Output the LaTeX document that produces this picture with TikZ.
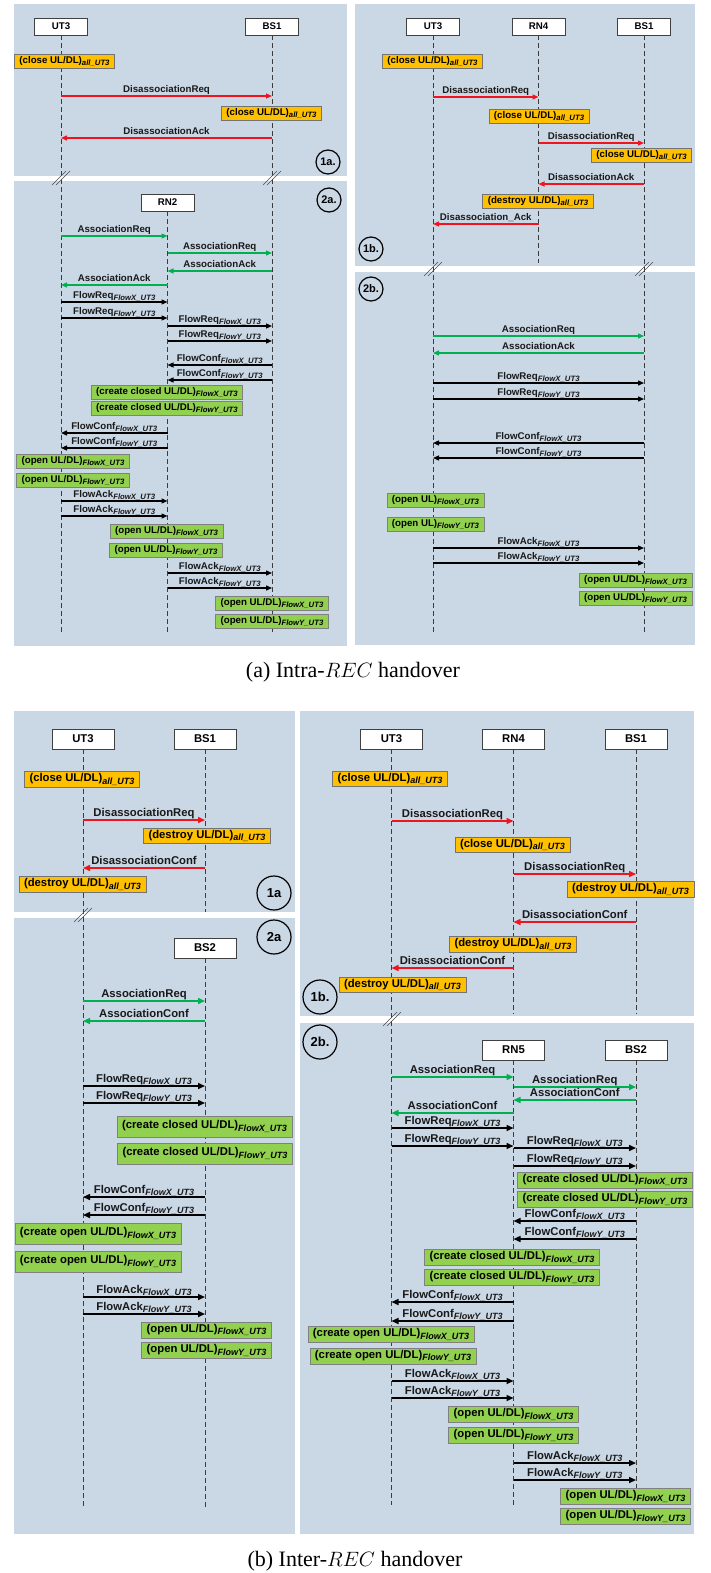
\documentclass[tikz,border=0pt]{standalone}
\usepackage{fontspec}
\setmainfont{Liberation Sans}
\newfontfamily\capfont{Liberation Serif}
\usepackage{graphicx}
\usetikzlibrary{arrows.meta}
\definecolor{panelbg}{RGB}{202,215,229}
\definecolor{mred}{RGB}{240,20,30}
\definecolor{mgreen}{RGB}{0,176,80}
\definecolor{borange}{RGB}{255,192,0}
\definecolor{bgreen}{RGB}{146,208,80}
\definecolor{lifegray}{RGB}{60,60,60}
\newcommand\sbs[1]{\raisebox{-0.4ex}{\scalebox{0.8}{\itshape #1}}}
\newcommand\fnt{\fontsize{9.7pt}{11pt}\selectfont\bfseries}
\newcommand\stfnt{\fontsize{11pt}{13pt}\selectfont\bfseries}
\newcommand\lsh{3.5pt}
\newcommand\CL{(close UL/DL)\sbs{all\_UT3}}
\newcommand\DS{(destroy UL/DL)\sbs{all\_UT3}}
\newcommand\FX{\sbs{FlowX\_UT3}}
\newcommand\FY{\sbs{FlowY\_UT3}}
\newcounter{mc}
\newcounter{bc}
\newcommand\msg[6][]{\stepcounter{mc}\draw[msgline,#2,#1] (#3 |- 0,#5) -- node[mlbl] (m\arabic{mc}) {#6} (#4 |- 0,#5);}
\newcommand\bx[5][]{\stepcounter{bc}\node[#2,#1] (b\arabic{bc}) at (#3,#4) {#5};}
\newcommand\brk[2]{\draw[brkline] (#1-9,#2+7) -- (#1+5,#2-7); \draw[brkline] (#1-5,#2+7) -- (#1+9,#2-7);}
\tikzset{
 panel/.style={fill=panelbg,draw=none},
 hdr/.style={draw=black!75,fill=white,line width=0.9pt,inner sep=0pt,font=\fnt},
 life/.style={draw=lifegray,line width=0.9pt,dash pattern=on 5pt off 3pt},
 msgline/.style={line width=1.3pt,-{Triangle[length=6pt,width=5pt]}},
 redmsg/.style={color=mred},
 grnmsg/.style={color=mgreen},
 blkmsg/.style={color=black},
 mlbl/.style={anchor=base,yshift=\lsh,inner sep=0pt,font=\fnt,text=black!90},
 obox/.style={fill=borange,draw=black!55,line width=0.7pt,inner xsep=5pt,inner ysep=0pt,minimum height=14pt,font=\fnt},
 gbox/.style={fill=bgreen,draw=black!50,line width=0.7pt,inner xsep=5pt,inner ysep=0pt,minimum height=14pt,font=\fnt},
 stage/.style={circle,draw=black,line width=1.2pt,inner sep=0pt,font=\stfnt},
 brkline/.style={draw=black!70,line width=0.6pt},
 caption/.style={anchor=base,inner sep=0pt,font=\capfont\fontsize{22pt}{26pt}\selectfont}
}
\begin{document}
\begin{tikzpicture}[x=1pt,y=-1pt]
\useasboundingbox (0,0) rectangle (710,1573);
\fill[white] (0,0) rectangle (710,1573);
% ---------------- panels
\fill[panel] (14,4) rectangle (347,176);
\fill[panel] (14,181) rectangle (347,646);
\fill[panel] (355,4) rectangle (695,266);
\fill[panel] (355,272) rectangle (695,645);
\fill[panel] (14,711) rectangle (295,912);
\fill[panel] (14,918) rectangle (295,1534);
\fill[panel] (300,711) rectangle (694,1016);
\fill[panel] (300,1023) rectangle (694,1534);

% ================= TOP (a)
\begin{scope}[hdr/.append style={minimum width=53pt,minimum height=17pt}]
\node[hdr] (aU) at (61,26.5) {UT3};
\node[hdr] (aB) at (272,26.5) {BS1};
\node[hdr] (aR) at (167.5,202.5) {RN2};
\node[hdr] (bU) at (433,26.5) {UT3};
\node[hdr] (bR) at (538.5,26.5) {RN4};
\node[hdr] (bB) at (644,26.5) {BS1};
\end{scope}
\draw[life] (aU.south) -- (aU |- 0,633);
\draw[life] (aB.south) -- (aB |- 0,633);
\draw[life] (aR.south) -- (aR |- 0,633);
\draw[life] (bU.south) -- (bU |- 0,633);
\draw[life] (bB.south) -- (bB |- 0,633);
\draw[life] (bR.south) -- (bR |- 0,263);
\brk{61}{178} \brk{272}{178} \brk{433}{269} \brk{644}{269}
\begin{scope}[stage/.append style={minimum size=24pt}]
\node[stage] (s1) at (328,162) {1a.};
\node[stage] (s2) at (329,200) {2a.};
\node[stage] (s3) at (371,249) {1b.};
\node[stage] (s4) at (371,289) {2b.};
\end{scope}
% 1a
\bx{obox}{64.5}{61}{\CL}
\msg{redmsg}{aU}{aB}{96}{DisassociationReq}
\bx{obox}{271.5}{113}{\CL}
\msg{redmsg}{aB}{aU}{138}{DisassociationAck}
% 1b
\bx{obox}{432.5}{61.5}{\CL}
\msg{redmsg}{bU}{bR}{97}{DisassociationReq}
\bx{obox}{539}{116.5}{\CL}
\msg{redmsg}{bR}{bB}{143}{DisassociationReq}
\bx{obox}{641.5}{155.5}{\CL}
\msg{redmsg}{bB}{bR}{184}{DisassociationAck}
\bx{obox}{538}{201}{\DS}
\msg{redmsg}{bR}{bU}{224}{Disassociation\_Ack}
% 2a
\msg{grnmsg}{aU}{aR}{236}{AssociationReq}
\msg{grnmsg}{aR}{aB}{253}{AssociationReq}
\msg{grnmsg}{aB}{aR}{271}{AssociationAck}
\msg{grnmsg}{aR}{aU}{285}{AssociationAck}
\msg{blkmsg}{aU}{aR}{302}{FlowReq\FX}
\msg{blkmsg}{aU}{aR}{318}{FlowReq\FY}
\msg{blkmsg}{aR}{aB}{326}{FlowReq\FX}
\msg{blkmsg}{aR}{aB}{341}{FlowReq\FY}
\msg{blkmsg}{aB}{aR}{365}{FlowConf\FX}
\msg{blkmsg}{aB}{aR}{380}{FlowConf\FY}
\bx{gbox}{167}{392}{(create closed UL/DL)\FX}
\bx{gbox}{167}{408.5}{(create closed UL/DL)\FY}
\msg{blkmsg}{aR}{aU}{433}{FlowConf\FX}
\msg{blkmsg}{aR}{aU}{448}{FlowConf\FY}
\bx{gbox}{73}{461}{(open UL/DL)\FX}
\bx{gbox}{73}{480}{(open UL/DL)\FY}
\msg{blkmsg}{aU}{aR}{501}{FlowAck\FX}
\msg{blkmsg}{aU}{aR}{516}{FlowAck\FY}
\bx{gbox}{166.5}{531}{(open UL/DL)\FX}
\bx{gbox}{166}{550}{(open UL/DL)\FY}
\msg{blkmsg}{aR}{aB}{573}{FlowAck\FX}
\msg{blkmsg}{aR}{aB}{588}{FlowAck\FY}
\bx{gbox}{272}{603}{(open UL/DL)\FX}
\bx{gbox}{272}{621.5}{(open UL/DL)\FY}
% 2b
\msg{grnmsg}{bU}{bB}{336}{AssociationReq}
\msg{grnmsg}{bB}{bU}{353}{AssociationAck}
\msg{blkmsg}{bU}{bB}{383}{FlowReq\FX}
\msg{blkmsg}{bU}{bB}{399}{FlowReq\FY}
\msg{blkmsg}{bB}{bU}{443}{FlowConf\FX}
\msg{blkmsg}{bB}{bU}{458}{FlowConf\FY}
\bx{gbox}{435.5}{500.5}{(open UL)\FX}
\bx{gbox}{435.5}{524}{(open UL)\FY}
\msg{blkmsg}{bU}{bB}{548}{FlowAck\FX}
\msg{blkmsg}{bU}{bB}{563}{FlowAck\FY}
\bx{gbox}{635.5}{580.5}{(open UL/DL)\FX}
\bx{gbox}{635.5}{598.5}{(open UL/DL)\FY}

\node[caption] (capa) at (353,677) {(a) Intra-$REC$ handover};

% ================= BOTTOM (b)
\renewcommand\fnt{\fontsize{11.3pt}{13pt}\selectfont\bfseries}
\renewcommand\stfnt{\fontsize{13pt}{15pt}\selectfont\bfseries}
\renewcommand\lsh{4pt}
\begin{scope}[msgline/.style={line width=1.5pt,-{Triangle[length=7pt,width=6pt]}},
  obox/.append style={minimum height=15.5pt},
  gbox/.append style={minimum height=16pt}]
\begin{scope}[hdr/.append style={minimum width=62pt,minimum height=20pt}]
\node[hdr] (cU) at (83,739) {UT3};
\node[hdr] (cB) at (205,739) {BS1};
\node[hdr] (cB2) at (205,948) {BS2};
\node[hdr] (dU) at (391.5,739) {UT3};
\node[hdr] (dR) at (513.5,739) {RN4};
\node[hdr] (dB) at (636,739) {BS1};
\node[hdr] (dR5) at (513.5,1050) {RN5};
\node[hdr] (dB2) at (636,1050) {BS2};
\end{scope}
\draw[life] (cU.south) -- (cU |- 0,1507);
\draw[life] (cB.south) -- (cB |- 0,912);
\draw[life] (cB2.south) -- (cB2 |- 0,1507);
\draw[life] (dU.south) -- (dU |- 0,1505);
\draw[life] (dR.south) -- (dR |- 0,1014);
\draw[life] (dB.south) -- (dB |- 0,1014);
\draw[life] (dR5.south) -- (dR5 |- 0,1505);
\draw[life] (dB2.south) -- (dB2 |- 0,1505);
\brk{83}{915} \brk{392}{1019}
\begin{scope}[stage/.append style={minimum size=34pt}]
\node[stage] (s5) at (274,893) {1a};
\node[stage] (s6) at (274,937) {2a};
\node[stage] (s7) at (320,997) {1b.};
\node[stage] (s8) at (320,1042) {2b.};
\end{scope}
% 1a
\bx{obox}{82}{779.5}{\CL}
\msg{redmsg}{cU}{cB}{820}{DisassociationReq}
\bx{obox}{207}{836}{\DS}
\msg{redmsg}{cB}{cU}{868}{DisassociationConf}
\bx{obox}{82.5}{884.5}{\DS}
% 2a
\msg{grnmsg}{cU}{cB2}{1001}{AssociationReq}
\msg{grnmsg}{cB2}{cU}{1021}{AssociationConf}
\msg{blkmsg}{cU}{cB2}{1086}{FlowReq\FX}
\msg{blkmsg}{cU}{cB2}{1103}{FlowReq\FY}
\bx[minimum height=21pt]{gbox}{204.5}{1126.5}{(create closed UL/DL)\FX}
\bx[minimum height=21pt]{gbox}{205}{1153.5}{(create closed UL/DL)\FY}
\msg{blkmsg}{cB2}{cU}{1197}{FlowConf\FX}
\msg{blkmsg}{cB2}{cU}{1215}{FlowConf\FY}
\bx[minimum height=21pt]{gbox}{98}{1233.5}{(create open UL/DL)\FX}
\bx[minimum height=21pt]{gbox}{98}{1261.5}{(create open UL/DL)\FY}
\msg{blkmsg}{cU}{cB2}{1297}{FlowAck\FX}
\msg{blkmsg}{cU}{cB2}{1314}{FlowAck\FY}
\bx{gbox}{206.5}{1330}{(open UL/DL)\FX}
\bx{gbox}{206.5}{1350.5}{(open UL/DL)\FY}
% 1b
\bx{obox}{390}{779}{\CL}
\msg{redmsg}{dU}{dR}{821}{DisassociationReq}
\bx{obox}{512.5}{845}{\CL}
\msg{redmsg}{dR}{dB}{874}{DisassociationReq}
\bx{obox}{630.5}{889.5}{\DS}
\msg{redmsg}{dB}{dR}{922}{DisassociationConf}
\bx{obox}{513}{944.5}{\DS}
\msg{redmsg}{dR}{dU}{968}{DisassociationConf}
\bx{obox}{402.5}{985}{\DS}
% 2b
\msg{grnmsg}{dU}{dR5}{1077}{AssociationReq}
\msg{grnmsg}{dR5}{dB2}{1087}{AssociationReq}
\msg{grnmsg}{dB2}{dR5}{1100}{AssociationConf}
\msg{grnmsg}{dR5}{dU}{1113}{AssociationConf}
\msg{blkmsg}{dU}{dR5}{1128}{FlowReq\FX}
\msg{blkmsg}{dU}{dR5}{1146}{FlowReq\FY}
\msg{blkmsg}{dR5}{dB2}{1148}{FlowReq\FX}
\msg{blkmsg}{dR5}{dB2}{1166}{FlowReq\FY}
\bx{gbox}{605}{1180}{(create closed UL/DL)\FX}
\bx{gbox}{605}{1199.5}{(create closed UL/DL)\FY}
\msg{blkmsg}{dB2}{dR5}{1221}{FlowConf\FX}
\msg{blkmsg}{dB2}{dR5}{1239}{FlowConf\FY}
\bx{gbox}{512}{1257.5}{(create closed UL/DL)\FX}
\bx{gbox}{512}{1277.5}{(create closed UL/DL)\FY}
\msg{blkmsg}{dR5}{dU}{1302}{FlowConf\FX}
\msg{blkmsg}{dR5}{dU}{1321}{FlowConf\FY}
\bx{gbox}{391}{1334.5}{(create open UL/DL)\FX}
\bx{gbox}{393}{1356}{(create open UL/DL)\FY}
\msg{blkmsg}{dU}{dR5}{1381}{FlowAck\FX}
\msg{blkmsg}{dU}{dR5}{1398}{FlowAck\FY}
\bx{gbox}{513.5}{1414.5}{(open UL/DL)\FX}
\bx{gbox}{513.5}{1435.5}{(open UL/DL)\FY}
\msg{blkmsg}{dR5}{dB2}{1463}{FlowAck\FX}
\msg{blkmsg}{dR5}{dB2}{1480}{FlowAck\FY}
\bx{gbox}{625.5}{1496.5}{(open UL/DL)\FX}
\bx{gbox}{625.5}{1516.5}{(open UL/DL)\FY}
\end{scope}
\node[caption] (capb) at (355,1566) {(b) Inter-$REC$ handover};
\end{tikzpicture}
\end{document}
